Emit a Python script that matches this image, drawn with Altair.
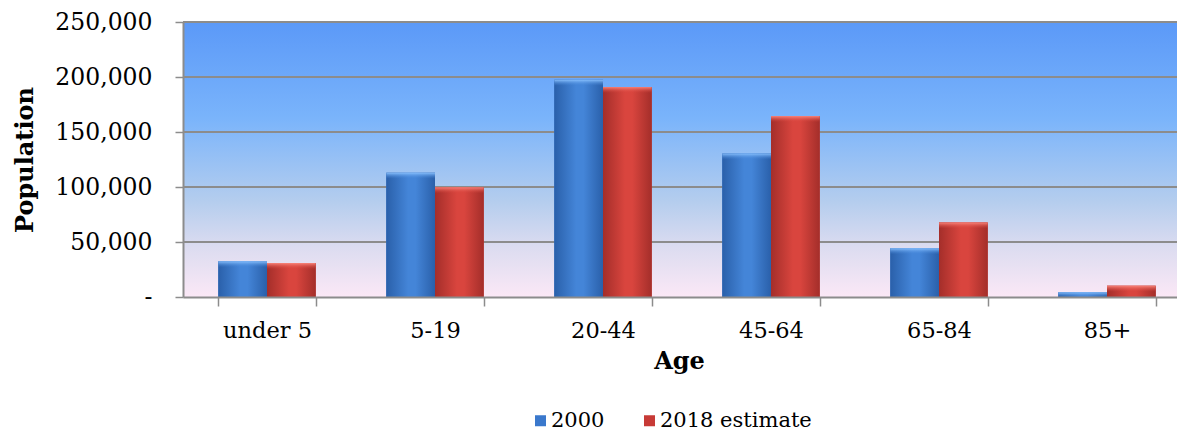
import altair as alt
import pandas as pd

ages = ["under 5", "5-19", "20-44", "45-64", "65-84", "85+"]
series = ["2000", "2018 estimate"]
pop_2000 = [32500, 113000, 197500, 130500, 44300, 4300]
pop_2018 = [30800, 99800, 191000, 164500, 67700, 10200]
y_ticks = [0, 50000, 100000, 150000, 200000, 250000]

rows = []
for a, v1, v2 in zip(ages, pop_2000, pop_2018):
    rows.append({"age": a, "series": series[0], "pop": v1})
    rows.append({"age": a, "series": series[1], "pop": v2})
df = pd.DataFrame(rows)
grid_df = pd.DataFrame({"pop": y_ticks[1:]})

FONT = "DejaVu Serif"
LEG_FONT = "'DejaVu Serif', 'Liberation Serif', serif"
W, H = 994, 275
TOP = 14


def hgrad(edge, mid):
    return alt.LinearGradient(
        gradient="linear", x1=0, x2=1, y1=0, y2=0,
        stops=[
            alt.GradientStop(color=edge, offset=0),
            alt.GradientStop(color=mid, offset=0.45),
            alt.GradientStop(color=mid, offset=0.6),
            alt.GradientStop(color=edge, offset=1),
        ],
    )


def vgrad(top, bottom):
    return alt.LinearGradient(
        gradient="linear", x1=0, x2=0, y1=0, y2=1,
        stops=[
            alt.GradientStop(color=top, offset=0),
            alt.GradientStop(color=bottom, offset=1),
        ],
    )


blue_grad = hgrad("#2a60aa", "#4485d8")
red_grad = hgrad("#a42e2a", "#d9453e")
blue_bevel = vgrad("rgba(140,195,255,0.95)", "rgba(68,133,216,0)")
red_bevel = vgrad("rgba(250,135,125,0.95)", "rgba(217,69,62,0)")

bg_grad = alt.LinearGradient(
    gradient="linear", x1=0, x2=0, y1=0, y2=1,
    stops=[
        alt.GradientStop(color="#5b99f8", offset=0),
        alt.GradientStop(color="#7ab4fb", offset=0.35),
        alt.GradientStop(color="#b4cdee", offset=0.65),
        alt.GradientStop(color="#dcdcf0", offset=0.82),
        alt.GradientStop(color="#fbe8f6", offset=1),
    ],
)

x_enc = alt.X(
    "age:N",
    sort=ages,
    scale=alt.Scale(range=[0, 1008], paddingInner=0.42, paddingOuter=0.21),
    axis=alt.Axis(
        title="Age",
        titleFont=FONT,
        titleFontSize=24,
        titleFontWeight="bold",
        titleColor="black",
        titleX=496,
        titleY=52,
        titleAlign="center",
        titleBaseline="top",
        labelFont=FONT,
        labelFontSize=22.5,
        labelColor="black",
        labelAngle=0,
        labelPadding=13,
        tickBand="extent",
        tickSize=9,
        tickColor="#8c8c8c",
        tickWidth=1.5,
        domainColor="#8c8c8c",
        domainWidth=2,
        grid=False,
        zindex=1,
    ),
)

y_enc = alt.Y(
    "pop:Q",
    scale=alt.Scale(domain=[0, 250000], nice=False),
    axis=alt.Axis(
        values=y_ticks,
        format=",.0f",
        labelExpr="datum.value == 0 ? '-\u00a0\u00a0' : format(datum.value, ',.0f')",
        labelFont=FONT,
        labelFontSize=23.5,
        labelColor="black",
        labelPadding=23,
        tickSize=8,
        tickColor="#8c8c8c",
        tickWidth=1.5,
        domainColor="#8c8c8c",
        domainWidth=2,
        grid=False,
        title="Population",
        titleFont=FONT,
        titleFontSize=24,
        titleFontWeight="bold",
        titleColor="black",
        titleX=-158,
        titleY=H / 2,
        titleAngle=270,
        titleAlign="center",
        titleBaseline="middle",
        zindex=1,
    ),
)

xoff = alt.XOffset("series:N", sort=series,
                   scale=alt.Scale(domain=series, paddingInner=0, paddingOuter=0))

background = alt.Chart(pd.DataFrame({"k": [0]})).mark_rect(color=bg_grad).encode(
    x=alt.value(0), x2=alt.value(W), y=alt.value(0), y2=alt.value(H)
)

grid = alt.Chart(grid_df).mark_rule(color="#8c8c8c", strokeWidth=2).encode(y=y_enc)

base = alt.Chart(df)

legend_layer = base.mark_bar().encode(
    x=x_enc,
    y=y_enc,
    xOffset=xoff,
    color=alt.Color(
        "series:N",
        sort=series,
        scale=alt.Scale(domain=series, range=["#3a78cc", "#c73a36"]),
        legend=alt.Legend(
            title=None,
            orient="none",
            legendX=347,
            legendY=410 - 8 - TOP,
            direction="horizontal",
            symbolType="square",
            symbolSize=121,
            symbolStrokeWidth=0,
            labelFont=LEG_FONT,
            labelFontSize=21,
            labelFontWeight="normal",
            labelColor="black",
            labelLimit=400,
            labelOffset=0,
            columnPadding=34,
            padding=0,
        ),
    ),
)

layers = [background, grid, legend_layer]
for s, g, bev in [(series[0], blue_grad, blue_bevel), (series[1], red_grad, red_bevel)]:
    sub = base.transform_filter(alt.datum.series == s)
    layers.append(sub.mark_bar(color=g).encode(x=x_enc, y=y_enc, xOffset=xoff))
    layers.append(
        sub.transform_calculate(bev_low="max(datum.pop - 5500, 0)")
        .mark_bar(color=bev)
        .encode(x=x_enc, y=y_enc, y2="bev_low:Q", xOffset=xoff)
    )

chart = (
    alt.layer(*layers)
    .properties(
        width=W,
        height=H,
        autosize=alt.AutoSizeParams(type="none"),
        padding={"left": 175, "top": TOP, "right": 0, "bottom": 427 - TOP - H},
    )
    .configure(font=FONT)
    .configure_view(strokeWidth=0)
    .configure_legend(labelFont=LEG_FONT, labelFontSize=21, labelColor="black", labelLimit=400)
)

chart.save("out.html", embed_options={"renderer": "svg", "actions": False})
